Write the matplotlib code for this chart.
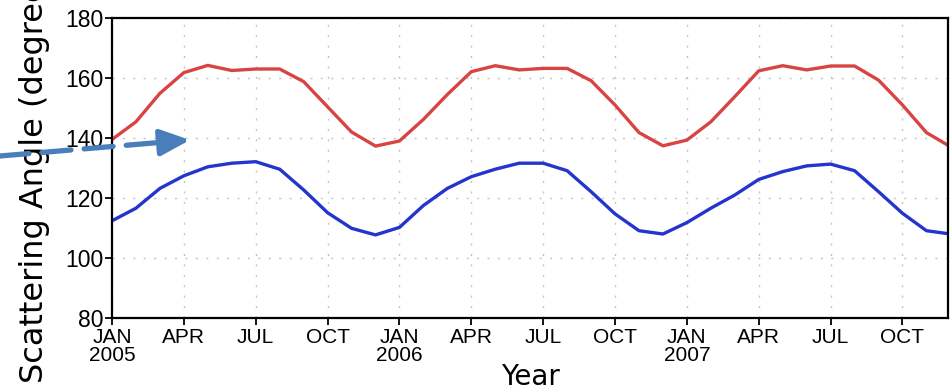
import numpy as np
import matplotlib
matplotlib.use("Agg")
import matplotlib.pyplot as plt

# monthly values, Jan 2005 .. Dec 2007
months = np.arange(36)
red_angle = [139.5, 145.4, 154.9, 161.8, 164.2, 162.5, 163.0, 163.0, 158.8, 150.4, 142.0, 137.3,
             139.0, 146.2, 154.5, 162.1, 164.1, 162.7, 163.2, 163.2, 159.1, 151.0, 141.8, 137.4,
             139.3, 145.4, 153.8, 162.4, 164.1, 162.7, 164.0, 164.0, 159.3, 151.0, 141.8, 137.1]
blue_angle = [112.4, 116.6, 123.2, 127.4, 130.4, 131.6, 132.1, 129.6, 122.7, 115.1, 109.9, 107.7,
              110.2, 117.5, 123.2, 127.1, 129.6, 131.6, 131.6, 129.1, 122.1, 114.7, 109.1, 108.0,
              111.8, 116.6, 121.0, 126.2, 128.8, 130.7, 131.3, 129.1, 122.1, 114.9, 109.1, 108.0]

tick_pos = np.arange(0, 36, 3)
tick_labels = ["JAN\n2005", "APR", "JUL", "OCT", "JAN\n2006", "APR", "JUL", "OCT",
               "JAN\n2007", "APR", "JUL", "OCT"]

tickfont = ["Liberation Sans", "DejaVu Sans"]

fig = plt.figure(figsize=(9.5, 3.89), dpi=100)
ax = fig.add_axes([112/950, 71/389, 836/950, 300/389])

ax.plot(months, red_angle, color="#d84444", lw=2.4)
ax.plot(months, blue_angle, color="#2335cc", lw=2.4)

ax.set_xlim(0, 34.9)
ax.set_ylim(80, 180)
ax.set_xticks(tick_pos)
ax.set_xticklabels(tick_labels, family=tickfont, fontsize=15, linespacing=0.9)
ax.set_yticks(np.arange(80, 181, 20))
ax.set_yticklabels([str(v) for v in range(80, 181, 20)], family=tickfont, fontsize=16.5)
ax.tick_params(direction="out", length=5, width=1.3, pad=1)
ax.tick_params(axis="x", pad=2.5)

ax.grid(True, color="#c4c4c4", linestyle=(0, (1.5, 6)), lw=1)
for s in ax.spines.values():
    s.set_linewidth(1.6)
    s.set_color("black")

ax.set_ylabel("Scattering Angle (degrees)", fontsize=23)
ax.yaxis.set_label_coords(-0.074, 0.5)
ax.set_xlabel("Year", fontsize=20)
ax.xaxis.set_label_coords(0.5, -0.15)

# dashed pointer arrow
ax.annotate("", xy=(165, 247), xytext=(0, 233), xycoords="figure pixels",
            textcoords="figure pixels",
            arrowprops=dict(arrowstyle="-", color="#4a7ebb", lw=3.8,
                            linestyle=(0, (5.5, 2.5)), shrinkA=0, shrinkB=0))
ax.annotate("", xy=(190, 249), xytext=(160, 246.5), xycoords="figure pixels",
            textcoords="figure pixels",
            arrowprops=dict(arrowstyle="-|>,head_length=1.8,head_width=0.8",
                            color="#4a7ebb", lw=3.8, shrinkA=0, shrinkB=0))

fig.savefig("out.png", dpi=100)
